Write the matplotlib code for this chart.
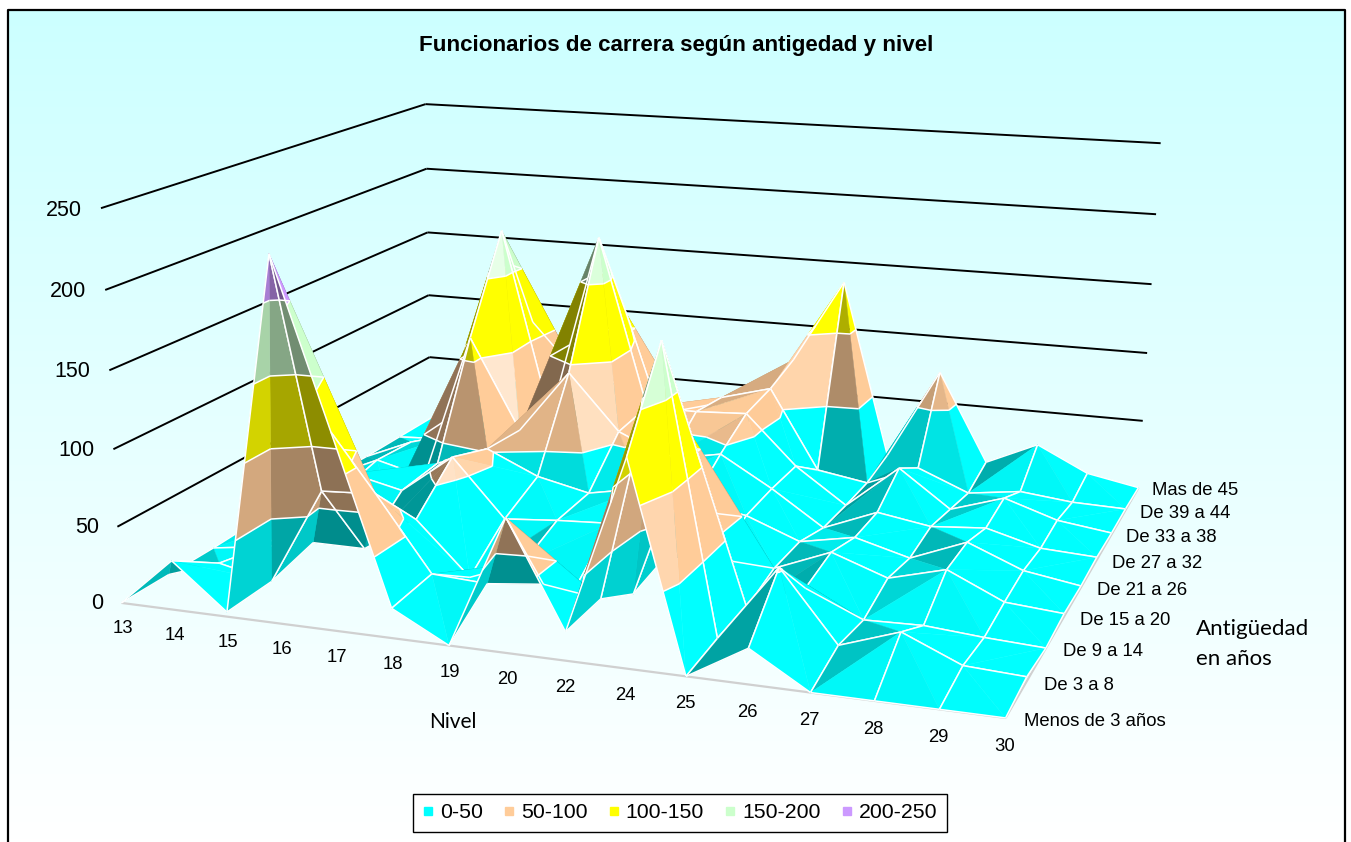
import numpy as np
import matplotlib
matplotlib.use("Agg")
import matplotlib.pyplot as plt
from matplotlib.lines import Line2D
from mpl_toolkits.mplot3d.art3d import Poly3DCollection, Line3DCollection

niveles = ['13', '14', '15', '16', '17', '18', '19', '20', '22', '24', '25', '26', '27', '28', '29', '30']
antiguedad = ['Menos de 3 años', 'De 3 a 8', 'De 9 a 14', 'De 15 a 20', 'De 21 a 26',
              'De 27 a 32', 'De 33 a 38', 'De 39 a 44', 'Mas de 45']
menos_3 = [0, 32, 3, 230, 125, 19, 0, 84, 18, 128, 0, 22, 0, 0, 0, 0]
de_3_8 = [0, 12, 4, 68, 70, 22, 20, 24, 19, 183, 3, 52, 8, 21, 5, 3]
de_9_14 = [0, 5, 12, 12, 36, 1, 15, 6, 3, 110, 3, 20, 4, 5, 2, 0]
de_15_20 = [1, 8, 43, 35, 62, 23, 26, 28, 8, 12, 10, 25, 12, 22, 5, 2]
de_21_26 = [2, 10, 3, 38, 52, 36, 28, 35, 30, 24, 10, 17, 7, 22, 7, 1]
de_27_32 = [1, 17, 8, 114, 50, 95, 56, 40, 47, 26, 2, 17, 11, 14, 4, 2]
de_33_38 = [0, 15, 25, 180, 45, 180, 59, 59, 61, 26, 1, 32, 6, 18, 6, 1]
de_39_44 = [0, 2, 6, 100, 62, 112, 10, 55, 65, 7, 1, 16, 1, 6, 2, 1]
mas_45 = [0, 1, 3, 5, 6, 8, 10, 15, 73, 135, 6, 73, 8, 25, 7, 0]
filas = [menos_3, de_3_8, de_9_14, de_15_20, de_21_26, de_27_32, de_33_38, de_39_44, mas_45]

bandas = ['0-50', '50-100', '100-150', '150-200', '200-250']
limites = [0, 50, 100, 150, 200, 250]
colores = ['#00FFFF', '#FFCC99', '#FFFF00', '#CCFFCC', '#CC99FF']
z_ticks = [0, 50, 100, 150, 200, 250]

W, H = 1351, 842
Z = np.array(filas, float)

fig = plt.figure(figsize=(W / 100, H / 100), dpi=100, facecolor='white')

# fondo, borde, titulo y leyenda en pixeles
bg = fig.add_axes([0, 0, 1, 1])
bg.axis('off')
grad = np.linspace(0, 1, 256).reshape(-1, 1)
top = np.array([0.80, 1.0, 1.0])
capa = top + (np.array([1.0, 1.0, 1.0]) - top) * grad[..., None]
bg.imshow(capa, extent=[8, 1345, H, 10], aspect='auto', zorder=0)
bg.plot([8, 8, 1345, 1345], [H, 10, 10, H], color='black', lw=1.6, zorder=1)
bg.set_xlim(0, W)
bg.set_ylim(H, 0)
bg.text(676, 46, 'Funcionarios de carrera según antigedad y nivel', ha='center', va='center',
        family='Liberation Sans', weight='bold', fontsize=16.1)
bg.text(453, 722, 'Nivel', ha='center', va='center', family='Lato', fontsize=15)
bg.text(1196, 644, 'Antigüedad\nen años', ha='left', va='center', family='Lato', fontsize=16,
        linespacing=1.6)
handles = [Line2D([], [], ls='', marker='s', ms=5.5, color=c) for c in colores]
bg.legend(handles, bandas, ncol=5, loc='center', bbox_to_anchor=(680, 813), bbox_transform=bg.transData,
          fancybox=False, edgecolor='black', framealpha=1, facecolor='white',
          prop={'family': 'Liberation Sans', 'size': 15.3}, handlelength=0.5, handletextpad=0.3,
          columnspacing=1.0, borderpad=0.45, borderaxespad=0)

# puntos de calibracion de la vista (x, y, z, px, py)
calib = [(0, 0, 0, 125, 603), (0, 0, 250, 100, 207), (0, 8, 0, 428, 417), (0, 8, 250, 428, 104),
         (0, 8, 50, 428, 357), (0, 8, 100, 428, 296), (0, 8, 150, 428, 233), (0, 8, 200, 428, 169),
         (15, 8, 0, 1140, 487), (15, 8, 250, 1160, 143), (15, 8, 50, 1143, 421), (15, 8, 100, 1147, 353),
         (15, 8, 150, 1152, 285), (15, 8, 200, 1155, 214), (15, 0, 0, 1005, 718),
         (0, 0, 50, 118, 528), (0, 0, 100, 113, 449), (0, 0, 150, 108, 370), (0, 0, 200, 104, 290)]
A = []
for X, Y, C, u, v in calib:
    A.append([X, Y, C, 1, 0, 0, 0, 0, -u * X, -u * Y, -u * C, -u])
    A.append([0, 0, 0, 0, X, Y, C, 1, -v * X, -v * Y, -v * C, -v])
P = np.linalg.svd(np.array(A, float))[2][-1].reshape(3, 4)
P = P / P[2, 3]
camara = np.linalg.svd(P)[2][-1]
camara = camara[:3] / camara[3]


def pix(x, y, z):
    h = P @ np.array([x, y, z, 1.0])
    return h[0] / h[2], h[1] / h[2]


ax = fig.add_axes([0, (H - W) / 2 / H, 1, W / H], projection='3d', zorder=2)
ax.set_axis_off()
ax.patch.set_alpha(0)
ax.computed_zorder = False
ax.apply_aspect()
inv = ax.transData.inverted()
p0, px, py = inv.transform([(0, H), (W, H), (0, 0)])
sx = (px[0] - p0[0]) / W
sy = (py[1] - p0[1]) / H
M = np.array([sx * P[0] + p0[0] * P[2],
              sy * P[1] + p0[1] * P[2],
              P[2] - np.array([0, 0, 0, 1.0]),
              P[2]])
ax.get_proj = lambda: M

nx, ny = len(niveles) - 1, len(antiguedad) - 1

# paredes y suelo
muro = []
for z in z_ticks[1:]:
    muro.append([(0, 0, z), (0, ny, z)])
    muro.append([(0, ny, z), (nx, ny, z)])
ax.add_collection3d(Line3DCollection(muro, colors='black', linewidths=1.4, zorder=1))
suelo = [[(0, 0, 0), (nx, 0, 0)], [(nx, 0, 0), (nx, ny, 0)]]
ax.add_collection3d(Line3DCollection(suelo, colors='#D0D0D0', linewidths=1.6, zorder=1))


def recorta(tri, lo, hi):
    poly = tri
    for lim, sign in ((lo, 1), (hi, -1)):
        out = []
        for a, b in zip(poly, poly[1:] + poly[:1]):
            da, db = sign * (a[2] - lim), sign * (b[2] - lim)
            if da >= 0:
                out.append(a)
            if da * db < 0:
                t = da / (da - db)
                out.append(tuple(a[k] + t * (b[k] - a[k]) for k in range(3)))
        poly = out
        if not poly:
            break
    return poly


def sombra(tri):
    p = np.array(tri) * [1, 1, 1 / 40]
    n = np.cross(p[1] - p[0], p[2] - p[0])
    n = n / np.linalg.norm(n)
    if n[2] < 0:
        n = -n
    vista = camara * [1, 1, 1 / 40] - p.mean(axis=0)
    vista = vista / np.linalg.norm(vista)
    d = n @ vista
    if d < 0:
        # se ve la cara de abajo
        return 0.55 + 0.28 * (-n[0])
    f = 1 - 0.28 * np.clip((-n[1] - 0.75) / 0.2, 0, 1) - 0.06 * min(max(0, -n[1]), 0.6)
    f -= 0.38 * np.clip((-n[0] - 0.1) / 0.35, 0, 1)
    if n[0] > 0.3:
        f += 0.3 * np.clip((d - 0.7) / 0.25, 0, 1)
    return f


def tono(color, f):
    rgb = np.array(matplotlib.colors.to_rgb(color))
    if f <= 1:
        return tuple(rgb * f)
    if color in (colores[0], colores[2]):
        return tuple(rgb)
    return tuple(rgb + (1 - rgb) * (f - 1) * 2)


# superficie: de atras hacia delante; la camara queda a la derecha de la malla
orden = 10
for j in range(ny - 1, -1, -1):
    for i in range(nx):
        v = {(a, b): (float(a), float(b), float(Z[b, a])) for a in (i, i + 1) for b in (j, j + 1)}
        # la diagonal del cuadro pasa por su vertice mas alto
        alto = max(v, key=lambda k: v[k][2])
        if alto in ((i, j), (i + 1, j + 1)):
            tris = [[v[i, j], v[i + 1, j], v[i + 1, j + 1]], [v[i, j], v[i + 1, j + 1], v[i, j + 1]]]
        else:
            tris = [[v[i, j], v[i + 1, j], v[i, j + 1]], [v[i + 1, j], v[i + 1, j + 1], v[i, j + 1]]]
        polys, fc = [], []
        segs = [[v[i, j], v[i + 1, j]], [v[i + 1, j], v[i + 1, j + 1]],
                [v[i + 1, j + 1], v[i, j + 1]], [v[i, j + 1], v[i, j]]]
        for tri in tris:
            f = sombra(tri)
            for b, color in enumerate(colores):
                poly = recorta(tri, limites[b], limites[b + 1])
                if len(poly) >= 3:
                    polys.append(poly)
                    fc.append(tono(color, f))
                if b > 0:
                    lim = limites[b]
                    corte = []
                    for a1, a2 in zip(tri, tri[1:] + tri[:1]):
                        if (a1[2] - lim) * (a2[2] - lim) < 0:
                            t = (lim - a1[2]) / (a2[2] - a1[2])
                            corte.append(tuple(a1[k] + t * (a2[k] - a1[k]) for k in range(3)))
                    if len(corte) == 2:
                        segs.append(corte)
        ax.add_collection3d(Poly3DCollection(polys, facecolors=fc, edgecolors=fc, linewidths=0.3, zorder=orden))
        ax.add_collection3d(Line3DCollection(segs, colors='white', linewidths=1.1, zorder=orden + 1))
        orden += 2

# etiquetas de ejes
for i, s in enumerate(niveles):
    bg.text(*pix(i, 0, -17), s, ha='center', va='center', family='Liberation Sans', fontsize=13.3, zorder=5)
for j, s in enumerate(antiguedad):
    bg.text(*pix(nx + 0.27, j, -1), s, ha='left', va='center', family='Liberation Sans', fontsize=13.3, zorder=5)
for z in z_ticks:
    bg.text(*pix(-0.36, 0, z - 2), str(z), ha='right', va='center', family='Liberation Sans', fontsize=15.5, zorder=5)

fig.savefig('out.png', dpi=100)
